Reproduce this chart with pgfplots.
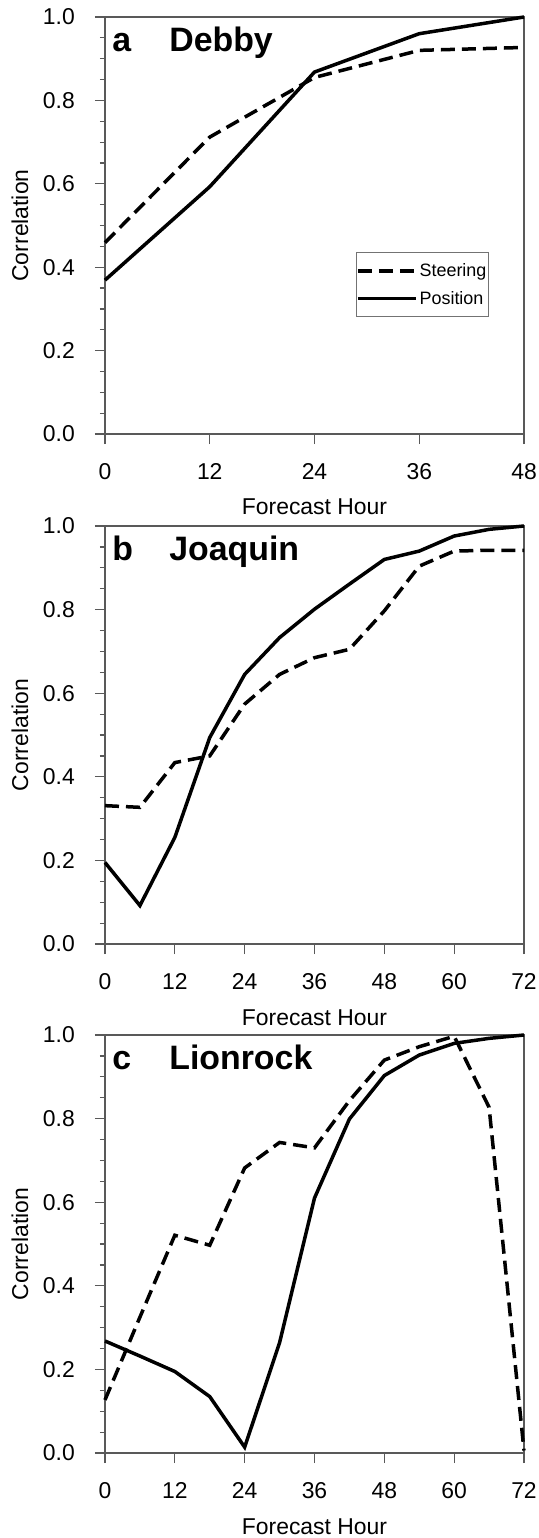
\documentclass[border=0pt]{standalone}
\usepackage{fontspec}
\setmainfont{Liberation Sans}
\usepackage{pgfplots}
\pgfplotsset{compat=1.18}

\pgfplotsset{
  panel/.style={
    scale only axis, width=419bp, height=418bp,
    xmin=0, ymin=0, ymax=1,
    ytick={0,0.2,0.4,0.6,0.8,1.0}, minor y tick num=3,
    /pgf/number format/assume math mode=true,
    yticklabel style={/pgf/number format/fixed, /pgf/number format/fixed zerofill,
      /pgf/number format/precision=1},
    tick label style={font=\fontsize{23}{27}\selectfont, inner sep=0pt},
    xticklabel style={yshift=-19bp},
    yticklabel style={anchor=east, xshift=-20bp},
    tick align=outside, tick pos=left,
    major tick length=10bp, minor tick length=5bp,
    axis line style={draw=black!65, line width=1.2bp},
    every tick/.style={draw=black!65, line width=1.2bp},
    xlabel={Forecast Hour}, ylabel={Correlation},
    every axis x label/.style={at={(axis description cs:0.5,-0.194)}, anchor=base,
      font=\fontsize{23}{27}\selectfont},
    every axis y label/.style={at={(axis description cs:-0.203,0.5)}, rotate=90,
      anchor=center, font=\fontsize{23}{27}\selectfont},
    clip=false,
  },
  steer/.style={black, line width=3.5bp, dash pattern=on 14bp off 7bp},
  posit/.style={black, line width=3.5bp},
}
\newcommand{\paneltitle}[2]{%
  \node[anchor=base west, font=\bfseries\fontsize{34}{38}\selectfont, inner sep=0pt]
    at (rel axis cs:0.017,0.918) {#1};
  \node[anchor=base west, font=\bfseries\fontsize{34}{38}\selectfont, inner sep=0pt]
    at (rel axis cs:0.153,0.918) {#2};}

\begin{document}
\begin{tikzpicture}
\useasboundingbox (0,0) rectangle (539bp,-1538bp);

% a: Debby
\begin{axis}[panel, at={(105bp,-434bp)}, anchor=south west, height=417bp,
  xmax=48, xtick={0,12,24,36,48},
  legend style={at={(rel axis cs:0.916,0.436)}, anchor=north east,
    draw=black!55, line width=0.8bp, fill=white,
    font=\fontsize{18}{21}\selectfont, inner xsep=0bp, inner ysep=9bp,
    row sep=9bp, cells={anchor=west},
    /tikz/every even column/.style={column sep=0bp}},
  legend image code/.code={\draw[#1] (0bp,0bp) -- (58bp,0bp);},
]
\addplot[steer] coordinates {(0,0.459) (12,0.712) (24,0.855) (36,0.920) (48,0.927)};
\addlegendentry{Steering}
\addplot[posit] coordinates {(0,0.369) (12,0.593) (24,0.868) (36,0.960) (48,1.0)};
\addlegendentry{Position}
\paneltitle{a}{Debby}
\end{axis}

% b: Joaquin
\begin{axis}[panel, at={(105bp,-944bp)}, anchor=south west,
  xmax=72, xtick={0,12,24,36,48,60,72}]
\addplot[steer] coordinates {(0,0.331) (6,0.327) (12,0.434) (18,0.450) (24,0.574)
  (30,0.645) (36,0.685) (42,0.705) (48,0.797) (54,0.904) (60,0.940) (66,0.942) (72,0.942)};
\addplot[posit] coordinates {(0,0.195) (6,0.092) (12,0.255) (18,0.494) (24,0.645)
  (30,0.733) (36,0.801) (42,0.861) (48,0.920) (54,0.940) (60,0.976) (66,0.992) (72,1.0)};
\paneltitle{b}{Joaquin}
\end{axis}

% c: Lionrock
\begin{axis}[panel, at={(105bp,-1453bp)}, anchor=south west,
  xmax=72, xtick={0,12,24,36,48,60,72}]
\addplot[steer] coordinates {(0,0.127) (6,0.325) (12,0.521) (18,0.497) (24,0.682)
  (30,0.743) (36,0.730) (42,0.843) (48,0.940) (54,0.972) (60,0.997) (66,0.827) (72,0.006)};
\addplot[posit] coordinates {(0,0.268) (6,0.232) (12,0.195) (18,0.135) (24,0.014)
  (30,0.264) (36,0.610) (42,0.799) (48,0.903) (54,0.952) (60,0.980) (66,0.992) (72,1.0)};
\paneltitle{c}{Lionrock}
\end{axis}
\end{tikzpicture}
\end{document}
